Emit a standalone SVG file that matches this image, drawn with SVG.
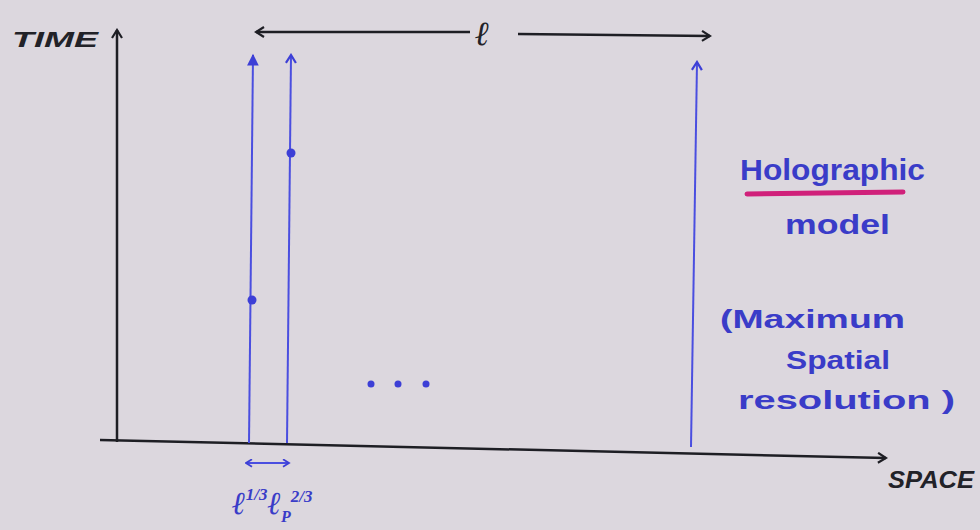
<svg xmlns="http://www.w3.org/2000/svg" width="980" height="530" viewBox="0 0 980 530">
<defs>
<marker id="openK" viewBox="0 0 12 12" refX="10" refY="6" markerWidth="12" markerHeight="12" markerUnits="userSpaceOnUse" orient="auto"><path d="M2,1 L10,6 L2,11" fill="none" stroke="#1e1e24" stroke-width="2.2"/></marker>
<marker id="openB" viewBox="0 0 12 12" refX="10" refY="6" markerWidth="12" markerHeight="12" markerUnits="userSpaceOnUse" orient="auto"><path d="M2,1 L10,6 L2,11" fill="none" stroke="#3d3fd6" stroke-width="2.2"/></marker>
<marker id="fillB" viewBox="0 0 12 12" refX="10" refY="6" markerWidth="14" markerHeight="14" markerUnits="userSpaceOnUse" orient="auto"><path d="M1,1 L11,6 L1,11 Z" fill="#3d3fd6"/></marker>
<marker id="openBs" viewBox="0 0 12 12" refX="10" refY="6" markerWidth="9" markerHeight="9" markerUnits="userSpaceOnUse" orient="auto-start-reverse"><path d="M2,1 L10,6 L2,11" fill="none" stroke="#3d3fd6" stroke-width="2.4"/></marker>
</defs>
<style>
.ax{stroke:#1e1e24;stroke-width:2.5;fill:none}
.bl{stroke:#4a4ee0;stroke-width:2;fill:none}
.tk{font-family:"Liberation Sans",Arial,sans-serif;font-weight:bold;font-style:italic;fill:#222228}
.tb{font-family:"Liberation Sans",Arial,sans-serif;font-weight:bold;fill:#3a3cc8}
</style>
<rect width="980" height="530" fill="#dcd7de"/>
<g id="connectors">
<line class="ax" x1="117" y1="442" x2="117" y2="30" marker-end="url(#openK)"/>
<line class="ax" x1="100" y1="440" x2="886" y2="458" marker-end="url(#openK)"/>
<line class="ax" x1="470" y1="32" x2="256" y2="32" marker-end="url(#openK)"/>
<line class="ax" x1="518" y1="34" x2="710" y2="36" marker-end="url(#openK)"/>
<line class="bl" x1="249" y1="443" x2="253" y2="55" marker-end="url(#fillB)"/>
<line class="bl" x1="287" y1="443" x2="291" y2="55" marker-end="url(#openB)"/>
<line class="bl" x1="691" y1="447" x2="697" y2="62" marker-end="url(#openB)"/>
<line class="bl" x1="246" y1="463" x2="289" y2="463" stroke-width="2.4" marker-start="url(#openBs)" marker-end="url(#openBs)"/>
<line x1="747" y1="194" x2="903" y2="192" stroke="#d0207a" stroke-width="5" stroke-linecap="round"/>
</g>
<g id="points">
<circle cx="252" cy="300" r="4.5" fill="#3d3fd6"/>
<circle cx="291" cy="153" r="4.5" fill="#3d3fd6"/>
<circle cx="371" cy="384" r="3.5" fill="#3d3fd6"/>
<circle cx="398" cy="384" r="3.5" fill="#3d3fd6"/>
<circle cx="426" cy="384" r="3.5" fill="#3d3fd6"/>
</g>
<g id="labels">
<text class="tk" x="12" y="47" font-size="22" textLength="86" lengthAdjust="spacingAndGlyphs">TIME</text>
<text class="tk" x="888" y="488" font-size="23" textLength="86" lengthAdjust="spacingAndGlyphs">SPACE</text>
<text x="475" y="45" font-family="Liberation Serif,serif" font-style="italic" font-weight="bold" font-size="34" fill="#222228">ℓ</text>
<text x="232" y="514" font-family="Liberation Serif,serif" font-style="italic" font-weight="bold" font-size="32" fill="#3a3cc8">ℓ<tspan font-size="17" dy="-14">1/3</tspan><tspan dy="14">ℓ</tspan><tspan font-size="16" dy="8">P</tspan><tspan font-size="17" dy="-20">2/3</tspan></text>
</g>
<g id="holographic">
<text class="tb" x="740" y="180" font-size="30" textLength="185" lengthAdjust="spacingAndGlyphs">Holographic</text>
<text class="tb" x="785" y="234" font-size="28" textLength="105" lengthAdjust="spacingAndGlyphs">model</text>
<text class="tb" x="720" y="328" font-size="25" textLength="185" lengthAdjust="spacingAndGlyphs">(Maximum</text>
<text class="tb" x="786" y="369" font-size="25" textLength="104" lengthAdjust="spacingAndGlyphs">Spatial</text>
<text class="tb" x="738" y="409" font-size="25" textLength="217" lengthAdjust="spacingAndGlyphs">resolution )</text>
</g>
</svg>
